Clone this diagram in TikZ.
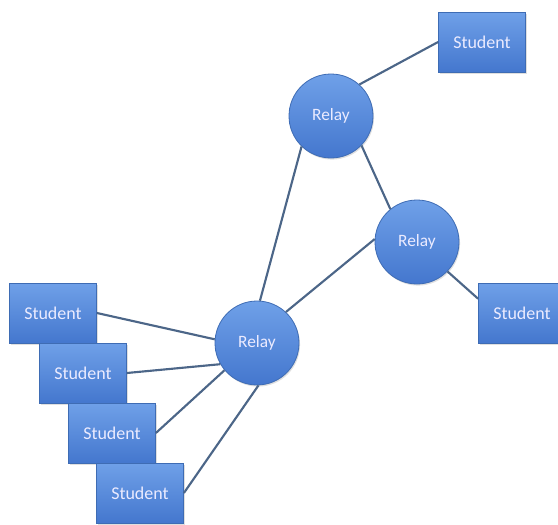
\documentclass[tikz,border=0pt]{standalone}
\usepackage{fontspec}
\setmainfont{Carlito}
\usetikzlibrary{shadows}
\definecolor{boxtop}{HTML}{6FA0E8}
\definecolor{boxbot}{HTML}{4477CE}
\definecolor{boxline}{HTML}{3E6CB4}
\definecolor{wire}{HTML}{4C6688}
\begin{document}
\begin{tikzpicture}[x=0.75pt,y=-0.75pt]
				\useasboundingbox (0,0) rectangle (558,525);
				\tikzstyle{relay}=[circle,minimum size=63pt,inner sep=0pt,draw=boxline,line width=0.6pt,top color=boxtop,bottom color=boxbot,text=white!92!blue,font=\fontsize{13}{15}\selectfont,drop shadow={opacity=0.25,shadow xshift=0.8pt,shadow yshift=-1.2pt}]
				\tikzstyle{student}=[rectangle,minimum width=65.25pt,minimum height=45pt,inner sep=0pt,draw=boxline,line width=0.6pt,top color=boxtop,bottom color=boxbot,text=white!92!blue,font=\fontsize{13.5}{15}\selectfont,drop shadow={opacity=0.25,shadow xshift=0.8pt,shadow yshift=-1.2pt}]
				\tikzstyle{wire}=[draw=wire,line width=1.6pt]
				\node[relay](r1) at (257,343){Relay};
				\node[relay](r2) at (331,116){Relay};
				\node[relay](r3) at (417,242){Relay};
				\node[student](s1) at (53,313){Student};
				\node[student](s2) at (83,373){Student};
				\node[student](s3) at (112,433){Student};
				\node[student](s4) at (140,493){Student};
				\node[student](st) at (482,42){Student};
				\node[student](sr) at (522,313){Student};
				\path[wire]
					(s1.east) edge node {}(r1.175)
					(s2.east) edge node {}(r1.-150)
					(s3.east) edge node {}(r1.-140)
					(s4.east) edge node {}(r1.-88)
					(r1.86) edge node {}(r2.-134)
					(r1.47) edge node {}(r3.176)
					(r2.-44) edge node {}(r3.129)
					(r2.48) edge node {}(st.west)
					(r3.-44) edge node {}(sr.162);
			\end{tikzpicture}
\end{document}
